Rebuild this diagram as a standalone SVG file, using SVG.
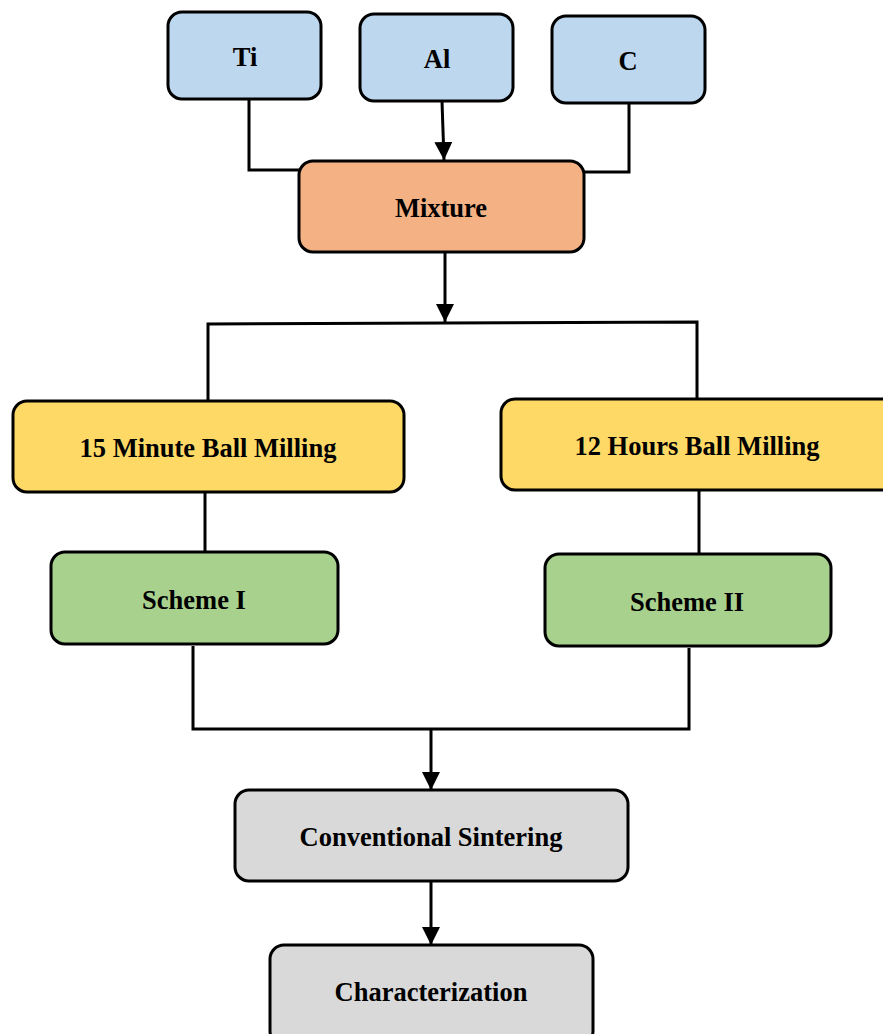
<svg xmlns="http://www.w3.org/2000/svg" width="883" height="1034" viewBox="0 0 883 1034">
<style>
.box{stroke:#000;stroke-width:3}
.lbl{font-family:"Liberation Serif","Times New Roman",serif;font-weight:bold;font-size:26.5px;text-anchor:middle;fill:#000}
.blue{fill:#BDD7EE}.orange{fill:#F4B183}.yellow{fill:#FFD966}.green{fill:#A9D18E}.grey{fill:#D9D9D9}
.ln{fill:none;stroke:#000;stroke-width:3}
</style>
<defs>
<marker id="ah" viewBox="0 0 10 10" refX="10" refY="5" markerWidth="6" markerHeight="6" markerUnits="strokeWidth" orient="auto">
<path d="M0,0 L10,5 L0,10 z" fill="#000"/>
</marker>
</defs>
<rect width="883" height="1034" fill="#fff"/>
<g id="connectors">
<polyline class="ln" points="249,99 249,170 299,170"/>
<line class="ln" x1="442" y1="101" x2="444" y2="160" marker-end="url(#ah)"/>
<polyline class="ln" points="629,103 629,172 584,172"/>
<line class="ln" x1="445" y1="252" x2="445" y2="322" marker-end="url(#ah)"/>
<polyline class="ln" points="208,401 208,324 697,322 697,399"/>
<line class="ln" x1="205" y1="492" x2="205" y2="552"/>
<line class="ln" x1="699" y1="490" x2="699" y2="554"/>
<polyline class="ln" points="193,646 193,729 689,729 689,648"/>
<line class="ln" x1="431" y1="729" x2="431" y2="790" marker-end="url(#ah)"/>
<line class="ln" x1="431" y1="881" x2="431" y2="945" marker-end="url(#ah)"/>
</g>
<g id="ti"><rect class="box blue" x="168" y="12" width="153" height="87" rx="14"/><text class="lbl" x="245" y="66">Ti</text></g>
<g id="al"><rect class="box blue" x="360" y="14" width="153" height="87" rx="14"/><text class="lbl" x="437" y="68">Al</text></g>
<g id="c"><rect class="box blue" x="552" y="16" width="153" height="87" rx="14"/><text class="lbl" x="628" y="70">C</text></g>
<g id="mixture"><rect class="box orange" x="299" y="161" width="285" height="91" rx="14"/><text class="lbl" x="441" y="217">Mixture</text></g>
<g id="min15"><rect class="box yellow" x="13" y="401" width="391" height="91" rx="14"/><text class="lbl" x="208" y="457">15 Minute Ball Milling</text></g>
<g id="hours12"><rect class="box yellow" x="501" y="399" width="395" height="91" rx="14"/><text class="lbl" x="697" y="455">12 Hours Ball Milling</text></g>
<g id="scheme1"><rect class="box green" x="51" y="552" width="287" height="92" rx="14"/><text class="lbl" x="194" y="609">Scheme I</text></g>
<g id="scheme2"><rect class="box green" x="545" y="554" width="286" height="92" rx="14"/><text class="lbl" x="687" y="611">Scheme II</text></g>
<g id="sintering"><rect class="box grey" x="235" y="790" width="393" height="91" rx="14"/><text class="lbl" x="431" y="846">Conventional Sintering</text></g>
<g id="characterization"><rect class="box grey" x="270" y="945" width="323" height="100" rx="14"/><text class="lbl" x="431" y="1001">Characterization</text></g>
</svg>
